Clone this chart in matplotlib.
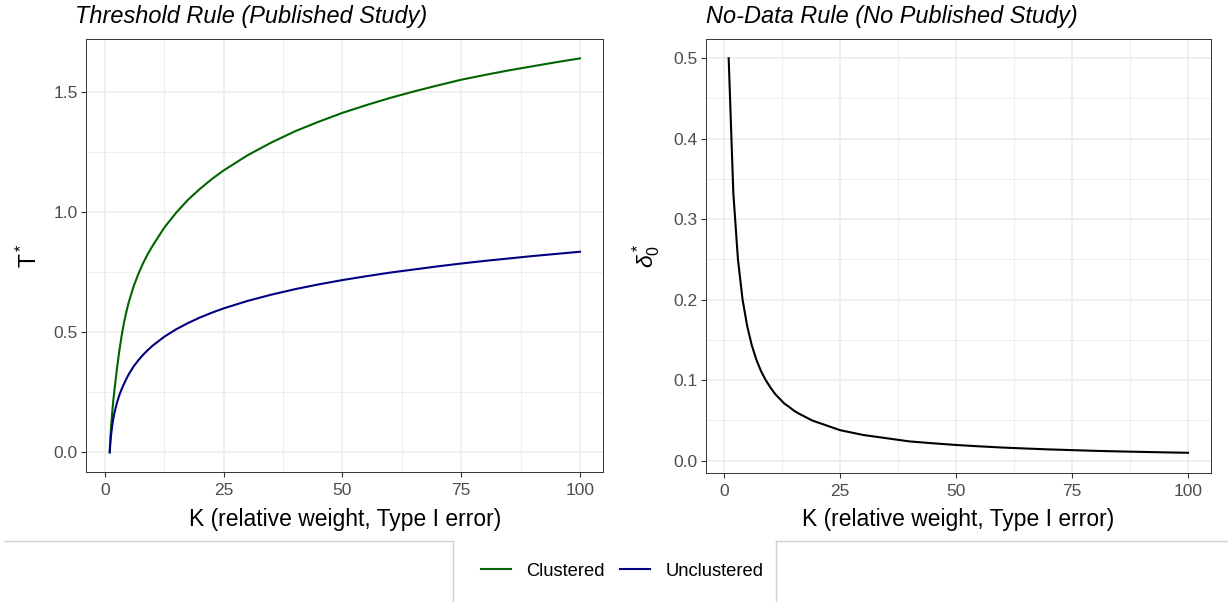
import numpy as np
import matplotlib
matplotlib.use('Agg')
from matplotlib import pyplot as plt
from matplotlib.lines import Line2D
from matplotlib.ticker import MultipleLocator, FormatStrFormatter

plt.rcParams['font.family'] = ['Liberation Sans', 'DejaVu Sans']
plt.rcParams['mathtext.fontset'] = 'custom'
plt.rcParams['mathtext.rm'] = 'Liberation Sans'
plt.rcParams['mathtext.it'] = 'Liberation Sans:italic'

# values
K_threshold = [1, 1.1, 1.25, 1.5, 1.75, 2, 2.5, 3, 3.5, 4, 4.5, 5, 6, 7, 8, 9,
               10, 12.5, 15, 17.5, 20, 22.5, 25, 30, 35, 40, 45, 50, 55, 60,
               65, 70, 75, 80, 85, 90, 95, 100]
T_clustered = [0.0, 0.05, 0.095, 0.16, 0.215, 0.26, 0.345, 0.42, 0.485, 0.54,
               0.585, 0.625, 0.69, 0.742, 0.787, 0.826, 0.86, 0.937, 0.999,
               1.053, 1.098, 1.139, 1.175, 1.238, 1.291, 1.338, 1.378, 1.415,
               1.447, 1.477, 1.504, 1.529, 1.553, 1.573, 1.592, 1.609, 1.626,
               1.642]
T_unclustered = [0.0, 0.03, 0.065, 0.108, 0.14, 0.165, 0.205, 0.237, 0.263,
                 0.285, 0.306, 0.325, 0.357, 0.383, 0.406, 0.426, 0.444, 0.482,
                 0.513, 0.539, 0.562, 0.582, 0.60, 0.631, 0.657, 0.68, 0.70,
                 0.718, 0.734, 0.749, 0.762, 0.775, 0.787, 0.798, 0.808, 0.818,
                 0.827, 0.836]

K_nodata = [1, 2, 3, 4, 5, 6, 7, 8, 9, 10, 11, 12, 13, 14, 15, 16, 17, 18, 19,
            20, 25, 30, 35, 40, 45, 50, 55, 60, 65, 70, 75, 80, 85, 90, 95, 100]
delta0 = [0.5, 0.333, 0.25, 0.2, 0.167, 0.143, 0.125, 0.111, 0.1, 0.091,
          0.083, 0.077, 0.071, 0.067, 0.0625, 0.059, 0.056, 0.053, 0.050,
          0.048, 0.038, 0.032, 0.028, 0.024, 0.0217, 0.0196, 0.0179, 0.0164,
          0.0152, 0.0141, 0.0132, 0.0123, 0.0116, 0.011, 0.0104, 0.0099]

series_names = ['Clustered', 'Unclustered']
series_colors = ['#006400', '#000080']

x_ticks = [0, 25, 50, 75, 100]
xlab = 'K (relative weight, Type I error)'

W, H = 1228, 602
fig = plt.figure(figsize=(W / 100, H / 100), dpi=100)


def px_axes(x0, y0, x1, y1):
    return fig.add_axes([x0 / W, 1 - y1 / H, (x1 - x0) / W, (y1 - y0) / H])


def style(ax, ymajor, yfmt):
    ax.set_facecolor('white')
    for s in ax.spines.values():
        s.set_color('#333333')
        s.set_linewidth(0.7)
    ax.set_xticks(x_ticks)
    ax.xaxis.set_minor_locator(MultipleLocator(12.5))
    ax.yaxis.set_major_locator(MultipleLocator(ymajor))
    ax.yaxis.set_minor_locator(MultipleLocator(ymajor / 2))
    ax.yaxis.set_major_formatter(FormatStrFormatter(yfmt))
    ax.grid(which='major', color='#EBEBEB', linewidth=1.1)
    ax.grid(which='minor', color='#EBEBEB', linewidth=0.6)
    ax.set_axisbelow(True)
    ax.tick_params(which='major', length=3.5, width=0.8, color='#333333',
                   labelsize=12.5, labelcolor='#4D4D4D', pad=2.5)
    ax.tick_params(axis='x', which='major', pad=4.5)
    ax.tick_params(which='minor', length=0)
    ax.set_xlabel(xlab, fontsize=16.5, labelpad=7)


# left panel
ax1 = px_axes(86.2, 38.7, 603.5, 472)
for vals, name, col in zip([T_clustered, T_unclustered], series_names, series_colors):
    ax1.plot(K_threshold, vals, color=col, linewidth=1.5, label=name)
ax1.set_xlim(-3.95, 104.95)
ax1.set_ylim(-0.082, 1.724)
style(ax1, 0.5, '%.1f')
ax1.set_ylabel(r'$\mathregular{T^*}$', fontsize=16.5, labelpad=8)
fig.text(75 / W, 1 - 23 / H, 'Threshold Rule (Published Study)',
         fontsize=16.9, style='italic', ha='left', va='baseline')

# right panel
ax2 = px_axes(705.7, 38.5, 1211, 472.5)
ax2.plot(K_nodata, delta0, color='black', linewidth=1.5)
ax2.set_xlim(-3.95, 104.95)
ax2.set_ylim(-0.0146, 0.5245)
style(ax2, 0.1, '%.1f')
ax2.set_ylabel(r'$\delta_0^*$', fontsize=16.5, labelpad=8)
fig.text(706 / W, 1 - 23 / H, 'No-Data Rule (No Published Study)',
         fontsize=16.9, style='italic', ha='left', va='baseline')

# legend at the bottom
handles = [Line2D([], [], color=c, linewidth=1.5) for c in series_colors]
fig.legend(handles, series_names, loc='center', bbox_to_anchor=(622 / W, 1 - 571 / H),
           ncol=2, frameon=False, fontsize=13.2, handlelength=1.64,
           handletextpad=0.82, columnspacing=0.87)

# light boxes of the layout grid
grey = '#D0D0D0'
for xs, ys in [([4, 453], [541, 541]), ([453, 453], [541, 602]),
               ([776, 776], [541, 602]), ([776, 1228], [541, 541])]:
    fig.add_artist(Line2D([x / W for x in xs], [1 - y / H for y in ys],
                          color=grey, linewidth=1.0))

fig.savefig('out.png', dpi=100)
